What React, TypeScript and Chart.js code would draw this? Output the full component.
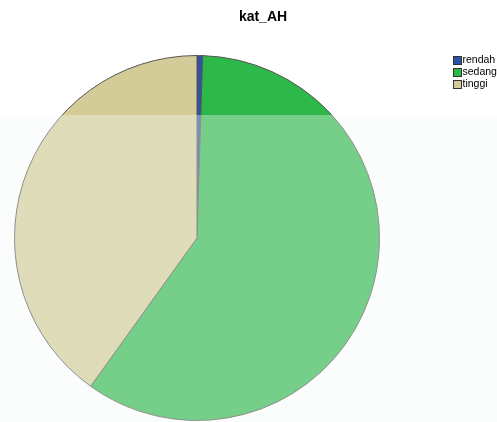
import React, { useEffect, useRef } from "react";
import { Chart, registerables } from "chart.js";

Chart.register(...registerables);

const TITLE = "kat_AH";
const categories = ["rendah", "sedang", "tinggi"];
const counts = [1, 120, 81];
const colors = ["#2f52a8", "#2fb84a", "#d4cc98"];

const W = 497;
const H = 422;

export default function App() {
  const ref = useRef<HTMLCanvasElement | null>(null);

  useEffect(() => {
    if (!ref.current) return;
    const decor = {
      id: "decor",
      beforeDraw(chart: any) {
        const ctx = chart.ctx;
        ctx.save();
        ctx.fillStyle = "#ffffff";
        ctx.fillRect(0, 0, chart.width, chart.height);
        ctx.restore();
      },
      afterDraw(chart: any) {
        const ctx = chart.ctx;
        ctx.save();
        // faint watermark band
        ctx.fillStyle = "rgba(245,250,248,0.36)";
        ctx.fillRect(0, 115, chart.width, chart.height - 115);
        // title
        ctx.fillStyle = "#000000";
        ctx.font = "bold 14px 'Liberation Sans', Arial, sans-serif";
        ctx.textAlign = "center";
        ctx.textBaseline = "middle";
        ctx.fillText(TITLE, 263, 17);
        // legend
        ctx.font = "10.5px 'Liberation Sans', Arial, sans-serif";
        ctx.textAlign = "left";
        categories.forEach((c, i) => {
          const y = 56 + i * 12;
          ctx.fillStyle = colors[i];
          ctx.fillRect(453, y, 8, 8);
          ctx.strokeStyle = "#333333";
          ctx.lineWidth = 1;
          ctx.strokeRect(453.5, y + 0.5, 8, 8);
          ctx.fillStyle = "#000000";
          ctx.fillText(c, 462.5, y + 4.5);
        });
        ctx.restore();
      },
    };
    const chart = new Chart(ref.current, {
      type: "pie",
      data: {
        labels: categories,
        datasets: [
          {
            data: counts,
            backgroundColor: colors,
            borderColor: "#555555",
            borderWidth: 1,
          },
        ],
      },
      options: {
        responsive: false,
        animation: false,
        layout: { padding: { left: 14, right: 117, top: 55, bottom: 1 } },
        plugins: {
          legend: { display: false },
          title: { display: false },
          tooltip: { enabled: false },
        },
      },
      plugins: [decor],
    });
    return () => chart.destroy();
  }, []);

  return (
    <div style={{ position: "fixed", left: 0, top: 0, width: W, height: H }}>
      <canvas ref={ref} width={W} height={H} style={{ width: W, height: H }} />
    </div>
  );
}
